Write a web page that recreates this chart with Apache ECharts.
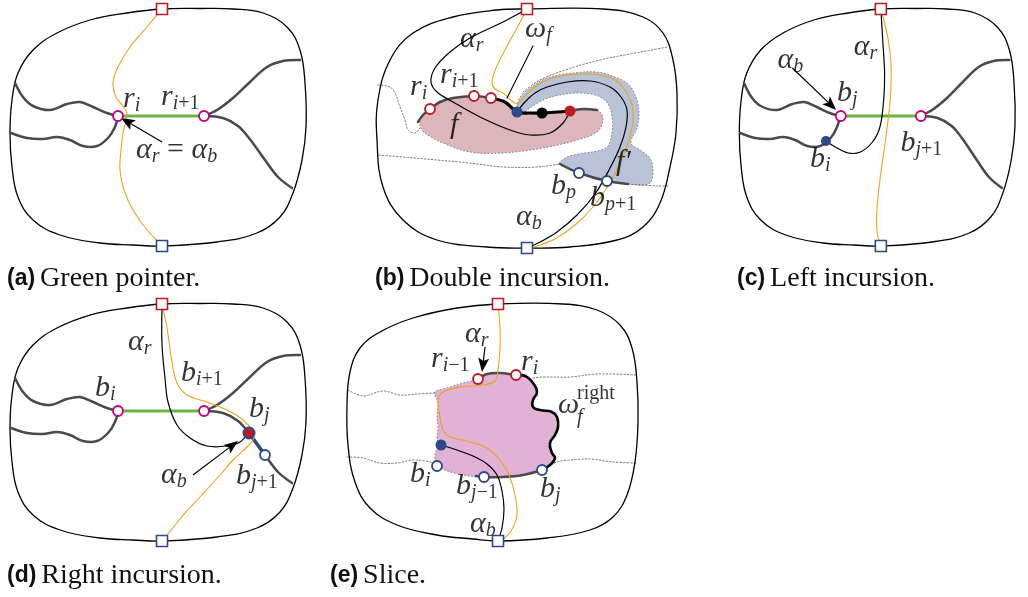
<!DOCTYPE html>
<html><head><meta charset="utf-8">
<script src="https://cdn.jsdelivr.net/npm/echarts@6.0.0/dist/echarts.min.js"></script>
<style>html,body{margin:0;padding:0;background:#fff}#c{width:1028px;height:597px}</style>
</head><body><div id="c"></div>
<script>
// ===== data (panel-local coordinates) =====
const outlineA = [[162,9],[200,8.5],[233,9],[263,13],[287,27],[300,50],[305,83],[306,127],[302,160],[293,193],[280,217],[257,233],[217,242],[162,246],[133,245],[100,243],[60,235],[33,220],[18,197],[12,167],[10,133],[12,100],[18,73],[33,50],[57,33],[90,20],[127,13]];
const outlineB = [[162,9],[238,9],[278,17],[298,33],[308,60],[312,93],[311,133],[305,167],[295,203],[278,227],[252,240],[205,247],[162,248],[122,247],[72,240],[38,220],[18,187],[12,140],[13,100],[25,60],[48,33],[88,17],[132,10]];
const outlineE = [[162,9],[227,9],[261,15],[284,30],[296,53],[301,87],[302,127],[299,167],[291,200],[277,222],[254,235],[211,243],[162,246],[137,244],[101,240],[61,230],[34,213],[19,187],[12,150],[11,110],[14,77],[24,53],[44,37],[77,23],[121,13]];

const grayUL = [[15,83],[23,97],[33,106],[50,110],[67,104],[80,102],[93,107],[107,113],[118,116]];
const grayLL = [[11,133],[27,138],[43,139],[57,137],[70,140],[83,146],[97,146],[108,138],[115,127],[118,116]];
const grayUR = [[204,116],[217,110],[233,98],[250,82],[267,67],[283,61],[300,60]];
const grayLR = [[204,116],[223,118],[238,126],[249,138],[265,160],[278,177],[292,188]];

// panel a
const greenA = [[118,116],[204,116]];
const orangeA = [[162,9],[147,27],[130,47],[118,67],[113,83],[116,97],[123,106],[127,113],[126,121],[123,133],[121,150],[120,170],[124,190],[133,210],[147,230],[162,245]];
const arrowA = [[162,142],[121,118]];
const magentaA = [[118,116],[204,116]];

// panel b
const pinkB = [[65,109],[75,102],[88,98],[109,96],[126,98],[140,102],[152,112],[177,113],[205,111],[222,109],[235,112],[238,120],[232,132],[212,140],[178,148],[138,153],[105,152],[78,143],[60,133],[55,125],[58,115]];
const blueB = [[152,107],[156,96],[165,88],[182,78],[208,73],[232,72],[250,77],[263,84],[271,97],[274,113],[272,128],[266,143],[275,150],[285,158],[288,170],[286,182],[280,185],[263,184],[242,181],[214,173],[195,164],[200,158],[213,154],[232,151],[243,146],[247,132],[247,117],[243,104],[233,96],[215,93],[195,95],[178,100],[165,108],[157,113]];
const dotB1 = [[13,85],[25,87],[30,93],[35,107],[40,120],[43,130],[50,133],[55,128]];
const dotB2 = [[158,92],[175,80],[200,70],[235,60],[265,54],[292,49],[302,47]];
const dotB3 = [[14,155],[38,157],[72,160],[105,163],[138,167],[172,167],[195,164]];
const dotB4 = [[263,184],[292,186],[304,186]];
const grayB1 = [[53,122],[58,115],[65,109],[75,102],[88,98],[109,96],[120,97],[126,98]];
const grayB2 = [[205,111],[218,109],[232,110]];
const grayB3 = [[195,164],[214,173],[242,181],[263,184]];
const omegaB = [[126,98],[140,102],[152,112],[165,113],[177,113],[205,111]];
const alphaRB = [[162,9],[138,22],[105,38],[85,52],[70,68],[66,82],[72,92],[88,102],[115,117],[145,130],[165,135],[185,133],[198,123],[205,111]];
const alphaBB = [[152,112],[160,102],[170,93],[182,87],[202,82],[225,81],[245,87],[256,97],[262,110],[261,127],[255,147],[244,170],[230,194],[212,215],[192,232],[175,242],[162,248]];
const orangeB = [[162,9],[152,28],[140,50],[131,68],[127,82],[130,89],[138,93],[147,101],[153,104],[160,96],[170,87],[182,80],[197,76],[215,74],[235,75],[250,80],[260,90],[267,105],[268,122],[263,143],[254,165],[243,186],[228,207],[210,225],[190,239],[172,246],[165,248]];
const pointerB = [[168,46],[142,98]];
const redOpenB = [[65,109],[109,96],[126,98]];
const blueOpenB = [[214,173],[242,181]];

// panel c
const greenC = [[119,116],[205,116]];
const alphaRC = [[162,9],[164,40],[166,73],[165,100],[161,127],[153,142],[140,152],[127,153],[113,147],[103,141]];
const orangeC = [[163,12],[170,40],[173,67],[172,100],[167,140],[162,173],[158,207],[158,233],[162,245]];
const arrowC = [[67,68],[114,110]];
const magentaC = [[119,116],[205,116]];

// panel d
const greenD = [[118,116],[204,116]];
const alphaRD = [[162,13],[162,50],[165,83],[168,107],[177,130],[190,143],[207,151],[227,151],[240,147],[248,138]];
const orangeD = [[162,9],[167,33],[172,67],[177,88],[187,100],[207,107],[227,115],[243,125],[253,137],[253,145],[247,152],[233,165],[220,180],[200,202],[180,224],[165,243]];
const blueSegD = [[249,138],[265,160]];
const arrowD = [[193,180],[238,146]];
const magentaD = [[118,116],[204,116]];

// panel e
const pinkE = [[142,84],[151,79],[164,78],[180,80],[191,82],[197,88],[201,97],[197,105],[197,112],[204,115],[216,117],[221,122],[222,132],[219,140],[214,148],[216,158],[219,163],[214,170],[206,175],[187,180],[167,182],[148,182],[127,180],[101,171],[99,160],[102,150],[101,142],[102,132],[101,122],[102,108],[99,97],[111,93],[127,88]];
const grayTopE = [[142,84],[151,79],[164,78],[180,80],[189,81]];
const wavyE = [[186,80],[191,82],[197,88],[201,97],[197,105],[197,112],[204,115],[216,117],[221,122],[222,132],[219,140],[214,148],[216,158],[219,163],[214,170],[206,175]];
const grayBotE = [[206,175],[187,180],[167,182],[148,182],[140,181]];
const dotE1 = [[12,95],[27,101],[47,96],[64,100],[81,99],[99,98]];
const dotE2 = [[197,83],[207,82],[234,82],[261,79],[301,80]];
const dotE3 = [[11,162],[27,163],[44,168],[61,168],[77,165],[94,167],[101,171]];
const dotE4 = [[206,175],[221,167],[234,165],[254,164],[277,167],[301,168]];
const orangeE = [[162,9],[164,33],[164,55],[162,75],[159,86],[147,90],[124,92],[107,97],[102,105],[104,122],[107,135],[114,142],[131,146],[151,153],[164,165],[173,180],[179,200],[181,220],[175,236],[166,245]];
const alphaBE = [[105,150],[121,155],[137,161],[151,169],[161,180],[166,196],[168,214],[166,233],[162,245]];
const arrowE = [[149,52],[146,77]];
const redOpenE = [[142,84],[180,80]];
const blueOpenE = [[101,171],[148,182],[206,175]];

// markers shared
const topSquare = [[162,9]];
const botSquareA = [[162,246]];
const botSquareB = [[162,248]];

// labels: [text, left, centre]
const labelsA = [['{m|r}{s|i}',123,99],['{m|r}{s|i}{sn|+1}',161,97],['{m|α}{s|r}{n| = }{m|α}{s|b}',136,150]];
const labelsB = [['{m|α}{s|r}',95,39],['{m|ω}{s|f}',160,29],['{m|r}{s|i}{sn|+1}',75,75],['{m|r}{s|i}',45,87],['{m|f}',85,125],['{m|f′}',251,162],['{m|b}{s|p}',186,186],['{m|b}{s|p}{sn|+1}',225,198],['{m|α}{s|b}',151,217]];
const labelsC = [['{m|α}{s|b}',51,60],['{m|α}{s|r}',133,47],['{m|b}{s|j}',115,93],['{m|b}{s|j}{sn|+1}',183,143],['{m|b}{s|i}',86,159]];
const labelsD = [['{m|α}{s|r}',128,47],['{m|b}{s|i}{sn|+1}',181,78],['{m|b}{s|i}',95,93],['{m|b}{s|j}',249,114],['{m|α}{s|b}',161,180],['{m|b}{s|j}{sn|+1}',236,181]];
const labelsE = [['{m|α}{s|r}',129,39],['{m|r}{s|i}{sn|−1}',95,64],['{m|r}{s|i}',185,67],['{m|ω}',222,110],['{sup|right}',241,99],['{ss|f}',241,123],['{m|b}{s|i}',74,179],['{m|b}{s|j}{sn|−1}',120,191],['{m|b}{s|j}',204,194],['{m|α}{s|b}',134,229]];

const captions = [['(a)','Green pointer.'],['(b)','Double incursion.'],['(c)','Left incursion.'],['(d)','Right incursion.'],['(e)','Slice.']];

// ===== layout / styles =====
const origins = [[0,0],[365,0],[730,0],[0,295],[336,295]];
const captionPos = [[7,263],[375,263],[737,263],[7,560],[330,560]];
const C = {outline:'#000', gray:'#4a4a4a', green:'#6db33f', orange:'#e9a41c', magenta:'#c8007e', red:'#bf1b26', blue:'#2b4a8b',
  pinkB:'#dcb6ba', blueB:'#b9c2d7', pinkE:'#e1b1d6', dot:'#666'};
const FONT = 'Liberation Serif';

const grid = origins.map(o => ({left:o[0], top:o[1], width:320, height:260, show:false}));
const xAxis = origins.map((o,i) => ({type:'value', gridIndex:i, min:0, max:320, show:false}));
const yAxis = origins.map((o,i) => ({type:'value', gridIndex:i, min:0, max:260, inverse:true, show:false}));

const series = [];
function shape(g, pts, style, closed, smooth, z){
  series.push({type:'custom', xAxisIndex:g, yAxisIndex:g, data:pts, silent:true, z:z, animation:false,
    renderItem:(p,api)=>{ if(p.dataIndex!==0) return;
      return {type: closed?'polygon':'polyline', shape:{points: pts.map(q=>api.coord(q)), smooth: smooth}, style: style}; }});
}
function line(g, pts, color, w, z, smooth, dash){
  shape(g, pts, {stroke:color, lineWidth:w, fill:null, lineDash: dash||null, lineCap:'round', lineJoin:'round'}, false, smooth===undefined?0.35:smooth, z);
}
function region(g, pts, fill, z){
  shape(g, pts, {fill:fill, stroke:C.dot, lineWidth:0.8, lineDash:[1.5,2]}, true, 0.35, z);
}
function outline(g, pts){
  shape(g, pts, {fill:null, stroke:C.outline, lineWidth:1.3}, true, 0.4, 3);
}
function arrow(g, pts){
  series.push({type:'custom', xAxisIndex:g, yAxisIndex:g, data:pts, silent:true, z:8, animation:false,
    renderItem:(p,api)=>{ if(p.dataIndex!==0) return;
      const a=api.coord(pts[0]), b=api.coord(pts[1]);
      const dx=b[0]-a[0], dy=b[1]-a[1], L=Math.hypot(dx,dy), ux=dx/L, uy=dy/L;
      const hl=14, hw=5.5;
      const bx=b[0]-ux*hl, by=b[1]-uy*hl;
      return {type:'group', children:[
        {type:'line', shape:{x1:a[0],y1:a[1],x2:bx+ux*3,y2:by+uy*3}, style:{stroke:'#000', lineWidth:1.2}},
        {type:'polygon', shape:{points:[[b[0],b[1]],[bx-uy*hw,by+ux*hw],[bx+ux*3,by+uy*3],[bx+uy*hw,by-ux*hw]]}, style:{fill:'#000'}}
      ]}; }});
}
function markers(g, pts, symbol, size, fill, border, bw){
  series.push({type:'scatter', xAxisIndex:g, yAxisIndex:g, data:pts, symbol:symbol, symbolSize:size, silent:true, z:10, animation:false,
    itemStyle:{color:fill, borderColor:border, borderWidth:bw, opacity:1}});
}
const rich = {
  m:{fontFamily:FONT, fontStyle:'italic', fontSize:30, lineHeight:34, color:'#000'},
  n:{fontFamily:FONT, fontSize:30, lineHeight:34, color:'#000'},
  s:{fontFamily:FONT, fontStyle:'italic', fontSize:20, lineHeight:20, verticalAlign:'bottom', color:'#000'},
  sn:{fontFamily:FONT, fontSize:20, lineHeight:20, verticalAlign:'bottom', color:'#000'},
  sup:{fontFamily:FONT, fontSize:20, lineHeight:20, color:'#000'},
  ss:{fontFamily:FONT, fontStyle:'italic', fontSize:20, lineHeight:20, color:'#000'}
};
function labels(g, list){
  series.push({type:'scatter', xAxisIndex:g, yAxisIndex:g, symbolSize:0, silent:true, z:12, animation:false,
    data: list.map(l=>({name:l[0], value:[l[1], l[2]]})),
    label:{show:true, position:'right', distance:0, formatter:p=>p.name, rich:rich}});
}

// outlines
outline(0, outlineA); outline(1, outlineB); outline(2, outlineA); outline(3, outlineA); outline(4, outlineE);

// panel a
[grayUL, grayLL, grayUR, grayLR].forEach(c=>line(0, c, C.gray, 2.5, 4));
line(0, greenA, C.green, 3, 5, 0);
line(0, orangeA, C.orange, 1.1, 6);
arrow(0, arrowA);
markers(0, magentaA, 'circle', 10, '#fff', C.magenta, 1.8);
markers(0, topSquare, 'rect', 11, '#fff', C.red, 1.6);
markers(0, botSquareA, 'rect', 11, '#fff', C.blue, 1.6);
labels(0, labelsA);

// panel b
region(1, pinkB, C.pinkB, 1);
region(1, blueB, C.blueB, 1);
[dotB1, dotB2, dotB3, dotB4].forEach(c=>line(1, c, C.dot, 0.9, 2, 0.35, [1.5,2]));
[grayB1, grayB2, grayB3].forEach(c=>line(1, c, C.gray, 2.5, 4));
line(1, alphaRB, '#000', 1.2, 5);
line(1, alphaBB, '#000', 1.2, 5);
line(1, orangeB, C.orange, 1.1, 6);
line(1, omegaB, '#000', 3.2, 7);
line(1, pointerB, '#000', 1.1, 7, 0);
markers(1, redOpenB, 'circle', 10, '#fff', C.red, 1.8);
markers(1, [[152,112]], 'circle', 11, C.blue, C.blue, 0);
markers(1, [[177,113]], 'circle', 11, '#000', '#000', 0);
markers(1, [[205,111]], 'circle', 11, C.red, C.red, 0);
markers(1, blueOpenB, 'circle', 10, '#fff', C.blue, 1.8);
markers(1, topSquare, 'rect', 11, '#fff', C.red, 1.6);
markers(1, botSquareB, 'rect', 11, '#fff', C.blue, 1.6);
labels(1, labelsB);

// panel c
[grayUL, grayLL, grayUR, grayLR].forEach(c=>line(2, c, C.gray, 2.5, 4));
line(2, greenC, C.green, 3, 5, 0);
line(2, alphaRC, '#000', 1.2, 5);
line(2, orangeC, C.orange, 1.1, 6);
arrow(2, arrowC);
markers(2, magentaC, 'circle', 10, '#fff', C.magenta, 1.8);
markers(2, [[103,141]], 'circle', 10, C.blue, C.blue, 0);
markers(2, topSquare, 'rect', 11, '#fff', C.red, 1.6);
markers(2, botSquareA, 'rect', 11, '#fff', C.blue, 1.6);
labels(2, labelsC);

// panel d
[grayUL, grayLL, grayUR, grayLR].forEach(c=>line(3, c, C.gray, 2.5, 4));
line(3, greenD, C.green, 3, 5, 0);
line(3, blueSegD, C.blue, 3.5, 5, 0);
line(3, alphaRD, '#000', 1.2, 5);
line(3, orangeD, C.orange, 1.1, 6);
arrow(3, arrowD);
markers(3, magentaD, 'circle', 10, '#fff', C.magenta, 1.8);
markers(3, [[249,138]], 'circle', 11, C.red, C.blue, 2);
markers(3, [[265,160]], 'circle', 10, '#fff', C.blue, 1.8);
markers(3, topSquare, 'rect', 11, '#fff', C.red, 1.6);
markers(3, botSquareA, 'rect', 11, '#fff', C.blue, 1.6);
labels(3, labelsD);

// panel e
region(4, pinkE, C.pinkE, 1);
[dotE1, dotE2, dotE3, dotE4].forEach(c=>line(4, c, C.dot, 0.9, 2, 0.35, [1.5,2]));
line(4, grayTopE, C.gray, 2.5, 4);
line(4, grayBotE, C.gray, 2.5, 4);
line(4, wavyE, '#000', 2.6, 5, 0.5);
line(4, alphaBE, '#000', 1.2, 5);
line(4, orangeE, C.orange, 1.1, 6);
arrow(4, arrowE);
markers(4, redOpenE, 'circle', 10, '#fff', C.red, 1.8);
markers(4, [[105,150]], 'circle', 11, C.blue, C.blue, 0);
markers(4, blueOpenE, 'circle', 10, '#fff', C.blue, 1.8);
markers(4, topSquare, 'rect', 11, '#fff', C.red, 1.6);
markers(4, botSquareA, 'rect', 11, '#fff', C.blue, 1.6);
labels(4, labelsE);

const title = captions.map((c,i)=>({left:captionPos[i][0], top:captionPos[i][1], padding:0,
  text:'{b|'+c[0]+'} {t|'+c[1]+'}',
  textStyle:{fontWeight:'normal', rich:{b:{fontFamily:'Liberation Sans', fontWeight:'bold', fontSize:23, lineHeight:32, color:'#111'},
                   t:{fontFamily:FONT, fontWeight:'normal', fontSize:28, lineHeight:32, color:'#111'}}}}));

const chart = echarts.init(document.getElementById('c'), null, {renderer:'canvas'});
chart.setOption({animation:false, backgroundColor:'#fff', title, grid, xAxis, yAxis, series});
</script>
</body></html>
